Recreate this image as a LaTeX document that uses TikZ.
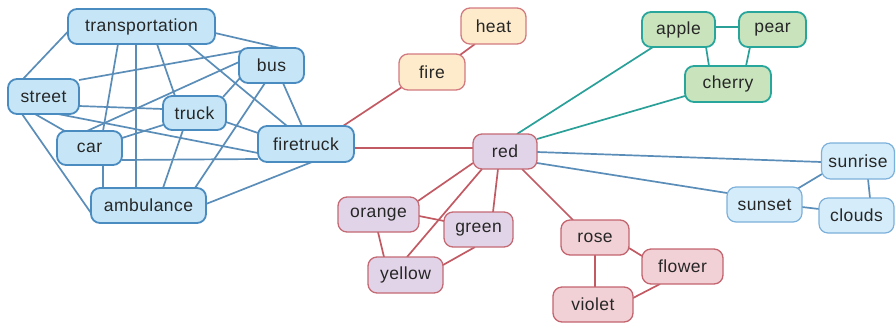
\documentclass[tikz,border=0pt]{standalone}
\usepackage{fontspec}
\setmainfont{Liberation Sans}[LetterSpace=2.5]
\usetikzlibrary{calc,backgrounds}

\definecolor{blueFill}{HTML}{C6E6F7}
\definecolor{blueLine}{HTML}{4A8BC0}
\definecolor{skyFill}{HTML}{D5EDFA}
\definecolor{skyLine}{HTML}{7DB0DA}
\definecolor{peachFill}{HTML}{FDEBCB}
\definecolor{peachLine}{HTML}{D27A80}
\definecolor{lilacFill}{HTML}{E2D4E8}
\definecolor{lilacLine}{HTML}{C46A74}
\definecolor{pinkFill}{HTML}{F1D0D6}
\definecolor{pinkLine}{HTML}{C4646E}
\definecolor{mintFill}{HTML}{C9E4BD}
\definecolor{mintLine}{HTML}{28A69C}
\definecolor{edgeBlue}{HTML}{5A8DB8}
\definecolor{edgeRed}{HTML}{C25A63}
\definecolor{edgeTeal}{HTML}{2AA098}
\definecolor{ink}{HTML}{262626}

\tikzset{
  word/.style={draw, rounded corners=9pt, inner sep=0pt, text=ink,
    font=\fontsize{17.5}{20}\selectfont, minimum height=35pt},
  vehicle/.style={word, fill=blueFill, draw=blueLine, line width=1.8pt},
  sky/.style={word, fill=skyFill, draw=skyLine, line width=1.2pt},
  flame/.style={word, fill=peachFill, draw=peachLine, line width=1.3pt},
  colour/.style={word, fill=lilacFill, draw=lilacLine, line width=1.3pt},
  blossom/.style={word, fill=pinkFill, draw=pinkLine, line width=1.3pt},
  fruit/.style={word, fill=mintFill, draw=mintLine, line width=1.8pt},
  blueedge/.style={draw=edgeBlue, line width=1.7pt},
  rededge/.style={draw=edgeRed, line width=1.7pt},
  tealedge/.style={draw=edgeTeal, line width=1.7pt},
}

\begin{document}
\begin{tikzpicture}[x=1pt, y=-1pt]
\useasboundingbox (0,0) rectangle (896,325);

% vehicles
\node[vehicle, minimum width=147pt] (trans) at (141.5,26.5) {transportation};
\node[vehicle, minimum width=65pt]  (bus)   at (271.5,65.5) {bus};
\node[vehicle, minimum width=71pt]  (street) at (43.5,96.5) {street};
\node[vehicle, minimum width=63pt, minimum height=34pt] (truck) at (194.5,113) {truck};
\node[vehicle, minimum width=65pt, minimum height=34pt] (car) at (89.5,148) {car};
\node[vehicle, minimum width=96pt, minimum height=36pt] (firetruck) at (306,144) {firetruck};
\node[vehicle, minimum width=115pt] (amb) at (148.5,205.5) {ambulance};

% fire
\node[flame, minimum width=65pt, minimum height=36pt] (heat) at (493.5,26) {heat};
\node[flame, minimum width=66pt, minimum height=36pt] (fire) at (432,72) {fire};

% colours
\node[colour, minimum width=64pt] (red) at (505,151.5) {red};
\node[colour, minimum width=81pt] (orange) at (378.5,214.5) {orange};
\node[colour, minimum width=69pt] (green) at (478.5,229.5) {green};
\node[colour, minimum width=75pt, minimum height=36pt] (yellow) at (405.5,275) {yellow};

% flowers
\node[blossom, minimum width=68pt] (rose) at (595,237.5) {rose};
\node[blossom, minimum width=80pt] (violet) at (593,304.5) {violet};
\node[blossom, minimum width=81pt] (flower) at (682.5,266.5) {flower};

% fruit
\node[fruit, minimum width=73pt] (apple) at (678.5,29.5) {apple};
\node[fruit, minimum width=67pt] (pear) at (772.5,29.5) {pear};
\node[fruit, minimum width=86pt, minimum height=36pt] (cherry) at (728,84) {cherry};

% sky
\node[sky, minimum width=73pt, minimum height=36pt] (sunrise) at (858,161) {sunrise};
\node[sky, minimum width=75pt] (sunset) at (764.5,204.5) {sunset};
\node[sky, minimum width=75pt] (clouds) at (856.5,215.5) {clouds};

\begin{scope}[on background layer]
% links among the vehicles
\draw[blueedge] ($(trans)+(-73.5,5)$) -- ($(street)+(-20.5,-17.5)$);
\draw[blueedge] ($(trans)+(73.5,6.5)$) -- ($(bus)+(8.5,-17.5)$);
\draw[blueedge] ($(trans)+(-23.5,17.5)$) -- ($(car)+(13.5,-17)$);
\draw[blueedge] ($(trans)+(-5.5,17.5)$) -- ($(amb)+(-12.5,-17.5)$);
\draw[blueedge] ($(trans)+(15.5,17.5)$) -- ($(truck)+(-19.5,-17)$);
\draw[blueedge] ($(trans)+(46.5,17.5)$) -- ($(firetruck)+(-19,-18)$);
\draw[blueedge] ($(street)+(35.5,-16.5)$) -- ($(bus)+(-30,-14.5)$);
\draw[blueedge] ($(street)+(35.5,9.5)$) -- ($(truck)+(-31.5,-4)$);
\draw[blueedge] ($(street)+(-8.5,17.5)$) -- ($(car)+(-24,-16.5)$);
\draw[blueedge] ($(street)+(14.5,17.5)$) -- ($(firetruck)+(-48,9)$);
\draw[blueedge] ($(street)+(-21.5,17.5)$) -- ($(amb)+(-57.5,7.5)$);
\draw[blueedge] ($(bus)+(-32.5,-3.5)$) -- ($(car)+(-2.5,-17)$);
\draw[blueedge] ($(bus)+(-31.5,12.5)$) -- ($(truck)+(28.5,-16)$);
\draw[blueedge] ($(bus)+(-6.5,17.5)$) -- ($(amb)+(46.5,-17.5)$);
\draw[blueedge] ($(bus)+(11.5,17.5)$) -- ($(firetruck)+(-4,-18)$);
\draw[blueedge] ($(truck)+(-31.5,12)$) -- ($(car)+(32.5,-10)$);
\draw[blueedge] ($(truck)+(31.5,9)$) -- ($(firetruck)+(-48,-11)$);
\draw[blueedge] ($(truck)+(-11.5,17)$) -- ($(amb)+(14.5,-17.5)$);
\draw[blueedge] ($(car)+(32.5,12)$) -- ($(firetruck)+(-48,15)$);
\draw[blueedge] ($(car)+(13.5,17)$) -- ($(amb)+(-45.5,-17.5)$);
\draw[blueedge] ($(amb)+(57.5,-1.5)$) -- ($(firetruck)+(6,18)$);

% red links
\draw[rededge] ($(firetruck)+(48,4)$) -- ($(red)+(-32,-3.5)$);
\draw[rededge] ($(firetruck)+(37,-18)$) -- ($(fire)+(-30,15)$);
\draw[rededge] ($(fire)+(28,-17)$) -- ($(heat)+(-18.5,18)$);
\draw[rededge] ($(red)+(-32,11.5)$) -- ($(orange)+(39.5,-13.5)$);
\draw[rededge] ($(red)+(-23,17.5)$) -- ($(yellow)+(1.5,-18)$);
\draw[rededge] ($(red)+(-7,17.5)$) -- ($(green)+(14.5,-17.5)$);
\draw[rededge] ($(red)+(17,17.5)$) -- ($(rose)+(-22,-17.5)$);
\draw[rededge] ($(orange)+(40.5,1.5)$) -- ($(green)+(-34.5,-8.5)$);
\draw[rededge] ($(orange)+(-0.5,17.5)$) -- ($(yellow)+(-21.5,-18)$);
\draw[rededge] ($(yellow)+(37.5,-10)$) -- ($(green)+(-3.5,17.5)$);
\draw[rededge] ($(rose)+(0,17.5)$) -- ($(violet)+(2,-17.5)$);
\draw[rededge] ($(rose)+(34,10.5)$) -- ($(flower)+(-40.5,-10.5)$);
\draw[rededge] ($(violet)+(40,-6.5)$) -- ($(flower)+(-22.5,17.5)$);

% teal links
\draw[tealedge] ($(red)+(12,-17.5)$) -- ($(apple)+(-25.5,17.5)$);
\draw[tealedge] ($(red)+(32,-12.5)$) -- ($(cherry)+(-43,12)$);
\draw[tealedge, line width=2.3pt] ($(apple)+(36.5,-2.5)$) -- ($(pear)+(-33.5,-2.5)$);
\draw[tealedge] ($(apple)+(27.5,17.5)$) -- ($(cherry)+(-19,-18)$);
\draw[tealedge] ($(pear)+(-22.5,17.5)$) -- ($(cherry)+(18,-18)$);

% sky links
\draw[blueedge] ($(red)+(32,0.5)$) -- ($(sunrise)+(-36.5,1)$);
\draw[blueedge] ($(red)+(32,11.5)$) -- ($(sunset)+(-37.5,-11.5)$);
\draw[blueedge] ($(sunrise)+(-36,13)$) -- ($(sunset)+(32.5,-15.5)$);
\draw[blueedge] ($(sunrise)+(10,18)$) -- ($(clouds)+(13.5,-17.5)$);
\draw[blueedge] ($(sunset)+(37.5,2.5)$) -- ($(clouds)+(-37.5,-6.5)$);
\end{scope}
\end{tikzpicture}
\end{document}
